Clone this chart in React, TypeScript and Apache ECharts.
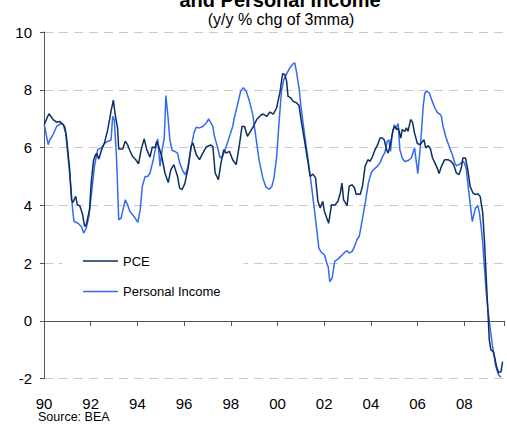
import React, { useEffect, useRef } from "react";
import * as echarts from "echarts";

const titleText = "and Personal Income";
const subtitleText = "(y/y % chg of 3mma)";
const sourceText = "Source: BEA";
const seriesNames = ["PCE", "Personal Income"];

const pceYears = [
  1990.01, 1990.21, 1990.39, 1990.54, 1990.68, 1990.82, 1990.89, 1990.96, 1991.1, 1991.18,
  1991.24, 1991.36, 1991.43, 1991.53, 1991.64, 1991.74, 1991.81, 1991.95, 1992.02, 1992.12,
  1992.21, 1992.26, 1992.35, 1992.45, 1992.59, 1992.73, 1992.87, 1992.97, 1993.06, 1993.15,
  1993.2, 1993.37, 1993.48, 1993.58, 1993.68, 1993.79, 1993.93, 1994.05, 1994.16, 1994.29,
  1994.4, 1994.54, 1994.64, 1994.75, 1994.83, 1994.92, 1995.04, 1995.18, 1995.32, 1995.43,
  1995.56, 1995.72, 1995.81, 1995.91, 1996.03, 1996.17, 1996.31, 1996.38, 1996.52, 1996.66,
  1996.8, 1996.95, 1997.13, 1997.23, 1997.33, 1997.47, 1997.58, 1997.7, 1997.8, 1997.94,
  1998.08, 1998.23, 1998.37, 1998.48, 1998.59, 1998.71, 1998.83, 1998.97, 1999.11, 1999.28,
  1999.39, 1999.54, 1999.68, 1999.82, 1999.96, 2000.1, 2000.22, 2000.31, 2000.39, 2000.45,
  2000.57, 2000.67, 2000.81, 2000.92, 2001.02, 2001.16, 2001.3, 2001.4, 2001.52, 2001.63,
  2001.73, 2001.83, 2001.94, 2002.01, 2002.11, 2002.19, 2002.31, 2002.45, 2002.59, 2002.69,
  2002.76, 2002.83, 2002.98, 2003.07, 2003.19, 2003.3, 2003.37, 2003.47, 2003.54, 2003.64,
  2003.75, 2003.87, 2003.96, 2004.06, 2004.18, 2004.29, 2004.39, 2004.49, 2004.57, 2004.67,
  2004.74, 2004.86, 2004.95, 2005.03, 2005.1, 2005.17, 2005.28, 2005.34, 2005.45, 2005.52,
  2005.59, 2005.7, 2005.78, 2005.87, 2005.99, 2006.1, 2006.27, 2006.35, 2006.46, 2006.55,
  2006.64, 2006.74, 2006.84, 2006.92, 2007.02, 2007.16, 2007.3, 2007.44, 2007.54, 2007.66,
  2007.77, 2007.87, 2007.94, 2008.05, 2008.15, 2008.25, 2008.37, 2008.48, 2008.58, 2008.68,
  2008.79, 2008.86, 2008.93, 2009.0, 2009.07, 2009.14, 2009.24, 2009.31, 2009.38, 2009.47,
  2009.57, 2009.64,
];
const pceValues = [
  6.8, 7.17, 6.97, 6.88, 6.9, 6.8, 6.71, 6.39, 5.23, 4.19,
  4.1, 4.31, 4.02, 3.99, 3.73, 3.27, 3.33, 3.85, 4.77, 5.55,
  5.76, 5.79, 5.6, 5.89, 6.16, 6.62, 7.25, 7.64, 7.08, 6.68,
  5.95, 5.95, 6.22, 6.1, 5.89, 5.7, 5.58, 5.44, 5.93, 6.3,
  5.93, 5.67, 6.02, 5.99, 6.22, 6.02, 5.7, 5.12, 4.79, 5.23,
  5.41, 5.0, 4.6, 4.54, 4.75, 5.29, 6.07, 6.16, 5.75, 5.58,
  5.81, 6.02, 6.09, 6.04, 5.12, 4.89, 5.47, 5.93, 5.81, 5.87,
  5.58, 5.41, 6.1, 6.73, 6.73, 6.39, 6.54, 6.73, 6.97, 7.12,
  7.16, 7.08, 7.23, 7.16, 7.37, 7.89, 8.56, 8.53, 8.3, 7.77,
  7.72, 7.6, 7.55, 7.46, 6.91, 6.22, 5.52, 5.0, 5.08, 4.95,
  4.14, 3.91, 4.14, 3.79, 3.56, 3.38, 4.02, 4.0, 4.14, 4.43,
  4.77, 4.19, 3.99, 4.66, 4.71, 4.6, 4.37, 4.4, 4.37, 4.66,
  5.35, 5.58, 5.52, 5.67, 5.93, 6.1, 6.33, 6.33, 6.27, 5.93,
  5.81, 6.22, 6.62, 6.73, 6.62, 6.68, 6.33, 6.62, 6.56, 6.68,
  6.56, 6.97, 6.88, 6.5, 6.14, 6.1, 6.27, 5.99, 6.07, 5.95,
  5.64, 5.47, 5.29, 5.1, 5.35, 5.58, 5.58, 5.52, 5.41, 5.12,
  5.06, 5.29, 5.64, 5.64, 5.23, 4.66, 4.43, 4.37, 4.4, 4.31,
  3.73, 2.81, 1.65, 0.5, -0.66, -1.0, -1.06, -1.29, -1.58, -1.79,
  -1.76, -1.41,
];

const incomeYears = [
  1990.01, 1990.18, 1990.25, 1990.39, 1990.54, 1990.71, 1990.82, 1990.93, 1991.07, 1991.18,
  1991.24, 1991.29, 1991.46, 1991.6, 1991.7, 1991.81, 1991.92, 1992.02, 1992.16, 1992.3,
  1992.45, 1992.59, 1992.73, 1992.87, 1992.94, 1993.01, 1993.11, 1993.2, 1993.3, 1993.48,
  1993.58, 1993.68, 1993.86, 1994.02, 1994.12, 1994.21, 1994.33, 1994.44, 1994.54, 1994.68,
  1994.75, 1994.87, 1994.97, 1995.06, 1995.15, 1995.22, 1995.32, 1995.39, 1995.49, 1995.6,
  1995.72, 1995.81, 1995.95, 1996.06, 1996.17, 1996.28, 1996.42, 1996.52, 1996.66, 1996.8,
  1996.95, 1997.05, 1997.23, 1997.3, 1997.44, 1997.54, 1997.65, 1997.8, 1997.94, 1998.08,
  1998.15, 1998.29, 1998.43, 1998.54, 1998.66, 1998.8, 1998.94, 1999.08, 1999.22, 1999.37,
  1999.51, 1999.65, 1999.76, 1999.85, 1999.96, 2000.07, 2000.17, 2000.27, 2000.39, 2000.53,
  2000.67, 2000.74, 2000.81, 2000.92, 2001.02, 2001.16, 2001.3, 2001.45, 2001.59, 2001.69,
  2001.77, 2001.87, 2002.01, 2002.11, 2002.17, 2002.24, 2002.34, 2002.45, 2002.59, 2002.73,
  2002.87, 2002.98, 2003.07, 2003.19, 2003.3, 2003.4, 2003.5, 2003.58, 2003.68, 2003.78,
  2003.89, 2004.01, 2004.1, 2004.25, 2004.39, 2004.49, 2004.6, 2004.7, 2004.77, 2004.84,
  2004.91, 2005.0, 2005.07, 2005.17, 2005.24, 2005.34, 2005.45, 2005.59, 2005.73, 2005.87,
  2005.95, 2006.01, 2006.13, 2006.24, 2006.31, 2006.38, 2006.5, 2006.6, 2006.74, 2006.84,
  2006.95, 2007.02, 2007.09, 2007.2, 2007.3, 2007.4, 2007.49, 2007.58, 2007.66, 2007.77,
  2007.87, 2007.97, 2008.08, 2008.15, 2008.25, 2008.34, 2008.39, 2008.48, 2008.58, 2008.65,
  2008.72, 2008.79, 2008.86, 2008.93, 2009.0, 2009.1, 2009.19, 2009.26, 2009.35, 2009.47,
  2009.57,
];
const incomeValues = [
  6.8, 6.1, 6.27, 6.45, 6.73, 6.83, 6.8, 6.5, 5.35, 4.31,
  3.73, 3.44, 3.38, 3.27, 3.04, 3.21, 3.61, 4.31, 5.35, 5.93,
  5.99, 6.14, 6.22, 6.25, 7.08, 6.97, 5.58, 3.5, 3.56, 4.19,
  4.02, 3.79, 3.61, 3.41, 3.85, 4.66, 5.0, 5.0, 5.12, 5.58,
  5.87, 6.3, 5.35, 5.93, 6.33, 7.8, 6.97, 6.27, 5.9, 5.87,
  5.81, 5.47, 5.18, 5.06, 5.35, 5.93, 6.5, 6.7, 6.68, 6.73,
  6.85, 6.99, 6.73, 6.39, 5.99, 5.64, 5.7, 6.02, 6.37, 6.73,
  7.03, 7.49, 7.97, 8.07, 7.95, 7.6, 7.14, 6.33, 5.52, 4.95,
  4.62, 4.56, 4.66, 4.95, 5.64, 6.91, 7.95, 8.35, 8.55, 8.76,
  8.9, 8.93, 8.64, 8.07, 7.31, 6.45, 5.64, 4.71, 3.79, 3.1,
  2.52, 2.38, 2.29, 2.0, 1.88, 1.36, 1.48, 2.06, 2.14, 2.25,
  2.37, 2.43, 2.35, 2.4, 2.58, 2.81, 2.92, 3.27, 3.73, 4.19,
  4.77, 5.12, 5.23, 5.33, 5.47, 5.67, 5.83, 6.22, 6.27, 5.87,
  6.45, 6.79, 6.68, 6.83, 5.93, 5.64, 5.52, 5.55, 5.64, 5.99,
  5.47, 5.1, 6.15, 7.43, 7.89, 7.95, 7.89, 7.66, 7.37, 7.22,
  7.16, 7.08, 6.73, 6.39, 6.16, 5.93, 5.75, 5.49, 5.37, 5.41,
  5.47, 5.52, 5.29, 4.77, 4.08, 3.44, 3.61, 3.91, 3.99, 3.73,
  3.27, 2.69, 1.88, 1.07, 0.5, -0.2, -0.77, -1.12, -1.58, -1.87,
  -1.95,
];

const FONT = "'Liberation Sans', Arial, sans-serif";
const PCE_COLOR = "#0c2f5f";
const INC_COLOR = "#3469f5";

function zip(xs: number[], ys: number[]) {
  return xs.map((x, i) => [x, ys[i]]);
}

function yearLabel(v: number) {
  const y = Math.round(v);
  if (Math.abs(v - y) > 1e-6 || y % 2 !== 0) return "";
  return String(y % 100).padStart(2, "0");
}

export default function App() {
  const ref = useRef<HTMLDivElement>(null);

  useEffect(() => {
    document.body.style.margin = "0";
    if (!ref.current) return;
    const chart = echarts.init(ref.current, undefined, { renderer: "svg" });
    const xBase = {
      type: "value" as const,
      min: 1990,
      max: 2009.7,
      interval: 2,
      splitLine: { show: false },
    };
    chart.setOption({
      animation: false,
      backgroundColor: "#fff",
      textStyle: { fontFamily: FONT },
      grid: { left: 44, right: -1, top: 32, bottom: 45.3, containLabel: false },
      legend: {
        orient: "vertical",
        left: 62,
        top: 244,
        padding: [10, 23, 10, 21],
        backgroundColor: "#fff",
        icon: "rect",
        itemWidth: 35,
        itemHeight: 1.5,
        itemGap: 16.5,
        textStyle: { fontSize: 13, color: "#000", fontFamily: FONT, lineHeight: 14 },
        data: seriesNames,
      },
      xAxis: [
        {
          ...xBase,
          axisLine: { show: true, onZero: true, lineStyle: { color: "#555", width: 1 } },
          axisTick: { show: true, length: 5, lineStyle: { color: "#555" } },
          axisLabel: { show: false },
        },
        {
          ...xBase,
          position: "bottom",
          axisLine: { show: false, onZero: false },
          axisTick: { show: false },
          axisLabel: {
            show: true,
            margin: 17,
            fontSize: 15,
            color: "#000",
            fontFamily: FONT,
            formatter: yearLabel,
          },
        },
      ],
      yAxis: {
        type: "value",
        min: -2,
        max: 10,
        interval: 2,
        axisLine: { show: true, lineStyle: { color: "#555", width: 1 } },
        axisTick: { show: true, length: 4, lineStyle: { color: "#555" } },
        axisLabel: { fontSize: 15, color: "#000", margin: 12, fontFamily: FONT },
        splitLine: {
          show: true,
          lineStyle: { color: "#c8c8c8", type: [9, 6], width: 1 },
        },
      },
      series: [
        {
          name: seriesNames[0],
          type: "line",
          xAxisIndex: 0,
          data: zip(pceYears, pceValues),
          symbol: "none",
          showSymbol: false,
          z: 3,
          lineStyle: { color: PCE_COLOR, width: 1.5 },
          itemStyle: { color: PCE_COLOR },
        },
        {
          name: seriesNames[1],
          type: "line",
          xAxisIndex: 0,
          data: zip(incomeYears, incomeValues),
          symbol: "none",
          showSymbol: false,
          z: 2,
          lineStyle: { color: INC_COLOR, width: 1.5 },
          itemStyle: { color: INC_COLOR },
        },
      ],
      graphic: [
        {
          type: "text",
          x: 280,
          y: 0,
          style: {
            text: titleText,
            fontSize: 20,
            fontWeight: "bold",
            fontFamily: FONT,
            fill: "#000",
            align: "center",
            verticalAlign: "middle",
          },
        },
        {
          type: "text",
          x: 281,
          y: 19.5,
          style: {
            text: subtitleText,
            fontSize: 16,
            fontFamily: FONT,
            fill: "#000",
            align: "center",
            verticalAlign: "middle",
          },
        },
        {
          type: "text",
          x: 38,
          y: 417,
          style: {
            text: sourceText,
            fontSize: 12.5,
            fontFamily: FONT,
            fill: "#000",
            align: "left",
            verticalAlign: "middle",
          },
        },
      ],
    });
    return () => chart.dispose();
  }, []);

  return <div ref={ref} style={{ width: 507, height: 424 }} />;
}
